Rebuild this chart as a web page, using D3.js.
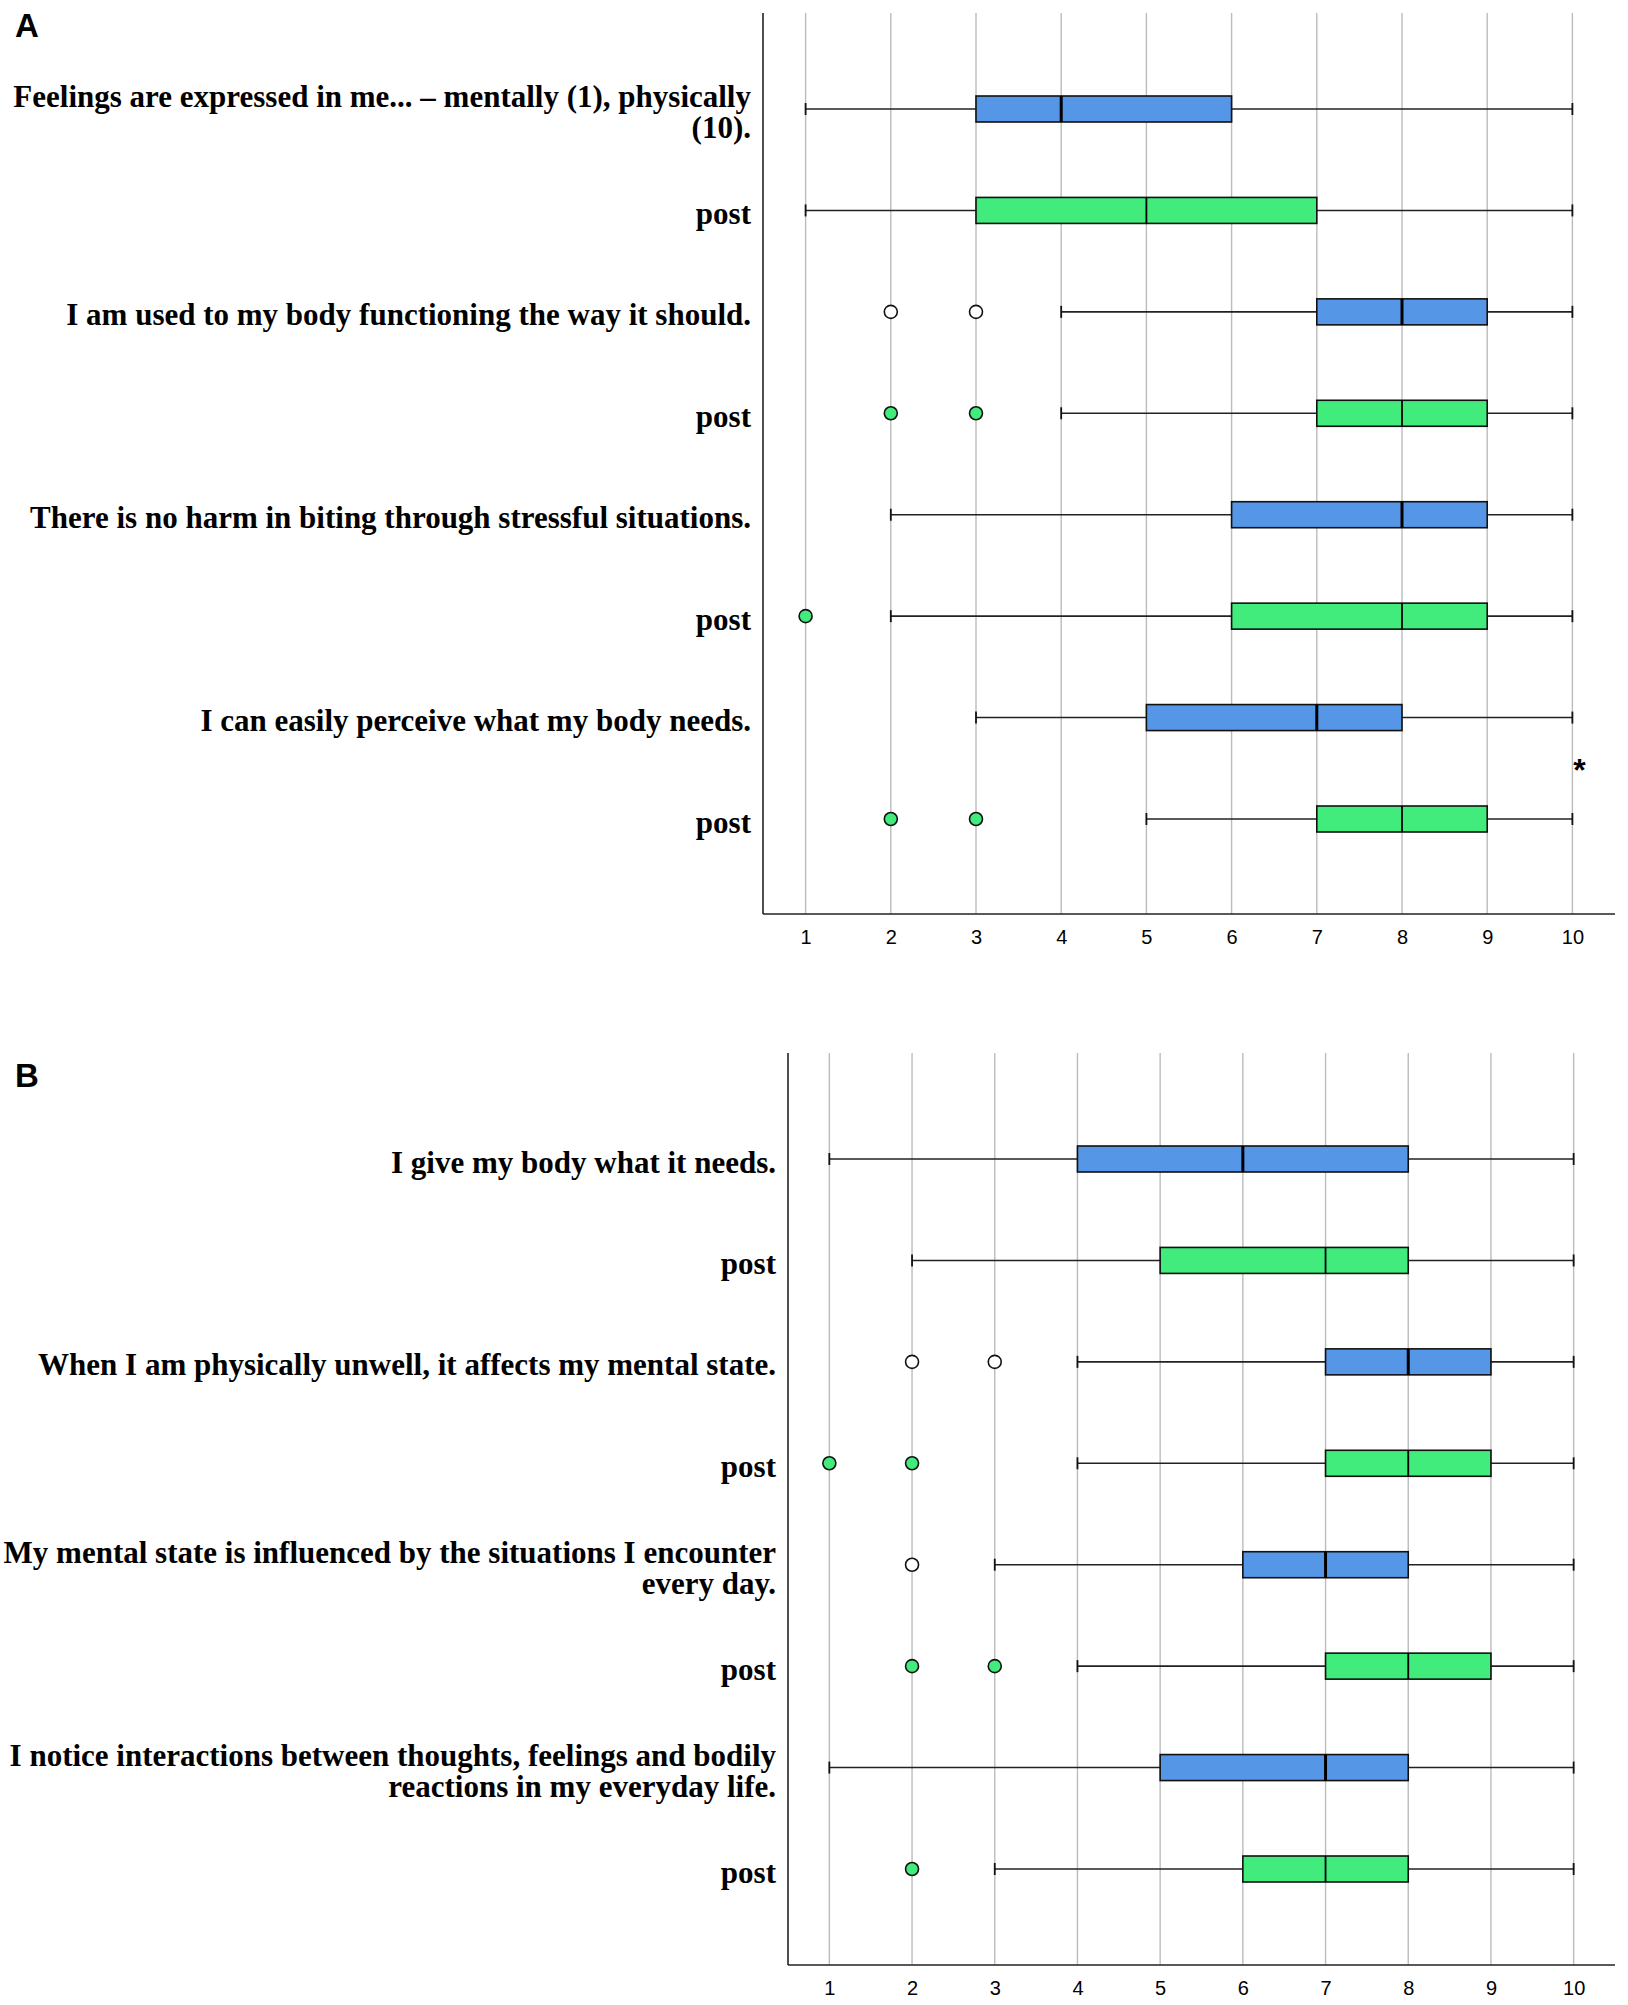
<!DOCTYPE html>
<html>
<head>
<meta charset="utf-8">
<script src="https://cdn.jsdelivr.net/npm/d3@7"></script>
<style>
  html, body { margin: 0; padding: 0; background: #fff; }
  svg { display: block; }
</style>
</head>
<body>
<svg id="chart" width="1628" height="2005"></svg>
<script>
// ---------------- DATA ----------------
const ticks = [1, 2, 3, 4, 5, 6, 7, 8, 9, 10];
const series = ["pre", "post"];

// Panel A
const labelsA = [
  ["Feelings are expressed in me... \u2013 mentally (1), physically", "(10)."],
  ["post"],
  ["I am used to my body functioning the way it should."],
  ["post"],
  ["There is no harm in biting through stressful situations."],
  ["post"],
  ["I can easily perceive what my body needs."],
  ["post"]
];
const seriesA   = ["pre", "post", "pre", "post", "pre", "post", "pre", "post"];
const lowA      = [1, 1, 4, 4, 2, 2, 3, 5];
const q1A       = [3, 3, 7, 7, 6, 6, 5, 7];
const medianA   = [4, 5, 8, 8, 8, 8, 7, 8];
const q3A       = [6, 7, 9, 9, 9, 9, 8, 9];
const highA     = [10, 10, 10, 10, 10, 10, 10, 10];
const outliersA = [[], [], [2, 3], [2, 3], [], [1], [], [2, 3]];
const signifA   = ["", "", "", "*"];   // per item pair

// Panel B
const labelsB = [
  ["I give my body what it needs."],
  ["post"],
  ["When I am physically unwell, it affects my mental state."],
  ["post"],
  ["My mental state is influenced by the situations I encounter", "every day."],
  ["post"],
  ["I notice interactions between thoughts, feelings and bodily", "reactions in my everyday life."],
  ["post"]
];
const seriesB   = ["pre", "post", "pre", "post", "pre", "post", "pre", "post"];
const lowB      = [1, 2, 4, 4, 3, 4, 1, 3];
const q1B       = [4, 5, 7, 7, 6, 7, 5, 6];
const medianB   = [6, 7, 8, 8, 7, 8, 7, 7];
const q3B       = [8, 8, 9, 9, 8, 9, 8, 8];
const highB     = [10, 10, 10, 10, 10, 10, 10, 10];
const outliersB = [[], [], [2, 3], [1, 2], [2], [2, 3], [], [2]];
const signifB   = ["", "", "", ""];

// ---------------- STYLE ----------------
const fillColor = d3.scaleOrdinal().domain(series).range(["#5596E6", "#41EB7C"]);
const outlierFill = d3.scaleOrdinal().domain(series).range(["#ffffff", "#41EB7C"]);
const medianWidth = d3.scaleOrdinal().domain(series).range([3, 1.8]);

const svg = d3.select("#chart");

function drawPanel(cfg) {
  const n = cfg.labels.length;
  const rows = d3.range(n);
  const x = d3.scaleLinear().domain([0.5, 10.5]).range([cfg.left, cfg.right]);
  const y = d3.scalePoint().domain(rows).range([cfg.firstRow, cfg.lastRow]);
  const g = svg.append("g");

  // panel letter
  g.append("text")
    .attr("x", 15).attr("y", cfg.letterY)
    .attr("font-family", "Liberation Sans, Arial, sans-serif")
    .attr("font-weight", "bold").attr("font-size", 33)
    .text(cfg.letter);

  // grid lines
  g.append("g").selectAll("line").data(ticks).join("line")
    .attr("x1", d => x(d)).attr("x2", d => x(d))
    .attr("y1", cfg.top).attr("y2", cfg.bottom)
    .attr("stroke", "#bcbcbc").attr("stroke-width", 1.4);

  // x axis
  const xAxis = d3.axisBottom(x).tickValues(ticks).tickSize(0).tickPadding(16).tickFormat(d3.format("d"));
  const ax = g.append("g").attr("transform", `translate(0,${cfg.bottom})`).call(xAxis);
  ax.select(".domain").attr("d", `M${cfg.left},0H${cfg.right}`).attr("stroke", "#222").attr("stroke-width", 1.6);
  ax.selectAll("text").attr("font-family", "Liberation Sans, Arial, sans-serif").attr("font-size", 20).attr("fill", "#000");

  // y axis line
  g.append("line")
    .attr("x1", cfg.left).attr("x2", cfg.left)
    .attr("y1", cfg.top).attr("y2", cfg.bottom)
    .attr("stroke", "#222").attr("stroke-width", 1.6);

  // labels
  const lab = g.append("g").selectAll("text").data(rows).join("text")
    .attr("text-anchor", "end")
    .attr("font-family", "Liberation Serif, Times New Roman, serif")
    .attr("font-weight", "bold").attr("font-size", 31)
    .attr("fill", "#000");
  lab.each(function (i) {
    const lines = cfg.labels[i];
    const lh = 31;
    const y0 = y(i) + 3 - (lines.length - 1) * lh / 2;
    d3.select(this).selectAll("tspan").data(lines).join("tspan")
      .attr("x", cfg.left - 12)
      .attr("y", (d, k) => y0 + k * lh)
      .attr("dominant-baseline", "central")
      .text(d => d);
  });

  const boxH = 26, capH = 12;
  const rowG = g.append("g").selectAll("g").data(rows).join("g");

  // whisker line
  rowG.append("line")
    .attr("x1", i => x(cfg.low[i])).attr("x2", i => x(cfg.high[i]))
    .attr("y1", i => y(i)).attr("y2", i => y(i))
    .attr("stroke", "#222").attr("stroke-width", 1.6);
  // caps
  rowG.selectAll("line.cap").data(i => [[i, cfg.low[i]], [i, cfg.high[i]]]).join("line")
    .attr("class", "cap")
    .attr("x1", d => x(d[1])).attr("x2", d => x(d[1]))
    .attr("y1", d => y(d[0]) - capH / 2).attr("y2", d => y(d[0]) + capH / 2)
    .attr("stroke", "#111").attr("stroke-width", 1.8);
  // box
  rowG.append("rect")
    .attr("x", i => x(cfg.q1[i])).attr("width", i => x(cfg.q3[i]) - x(cfg.q1[i]))
    .attr("y", i => y(i) - boxH / 2).attr("height", boxH)
    .attr("fill", i => fillColor(cfg.series[i]))
    .attr("stroke", "#111").attr("stroke-width", 1.6);
  // median
  rowG.append("line")
    .attr("x1", i => x(cfg.median[i])).attr("x2", i => x(cfg.median[i]))
    .attr("y1", i => y(i) - boxH / 2).attr("y2", i => y(i) + boxH / 2)
    .attr("stroke", "#000").attr("stroke-width", i => medianWidth(cfg.series[i]));
  // outliers
  rowG.selectAll("circle").data(i => cfg.outliers[i].map(v => [i, v])).join("circle")
    .attr("cx", d => x(d[1])).attr("cy", d => y(d[0]))
    .attr("r", 6.5)
    .attr("fill", d => outlierFill(cfg.series[d[0]]))
    .attr("stroke", "#111").attr("stroke-width", 1.6);

  // significance markers (between the pair of rows, right of the 10 line)
  g.append("g").selectAll("text").data(cfg.signif.map((s, k) => [s, k]).filter(d => d[0]))
    .join("text")
    .attr("x", x(10) + 7)
    .attr("y", d => (y(2 * d[1]) + y(2 * d[1] + 1)) / 2 + 13)
    .attr("text-anchor", "middle")
    .attr("font-family", "Liberation Sans, Arial, sans-serif")
    .attr("font-weight", "bold").attr("font-size", 32)
    .text(d => d[0]);
}

drawPanel({
  letter: "A", letterY: 37,
  left: 763, right: 1615, top: 13, bottom: 914,
  firstRow: 109, lastRow: 819,
  labels: labelsA, series: seriesA,
  low: lowA, q1: q1A, median: medianA, q3: q3A, high: highA,
  outliers: outliersA, signif: signifA
});

drawPanel({
  letter: "B", letterY: 1087,
  left: 788, right: 1615, top: 1053, bottom: 1965,
  firstRow: 1159, lastRow: 1869,
  labels: labelsB, series: seriesB,
  low: lowB, q1: q1B, median: medianB, q3: q3B, high: highB,
  outliers: outliersB, signif: signifB
});
</script>
</body>
</html>
